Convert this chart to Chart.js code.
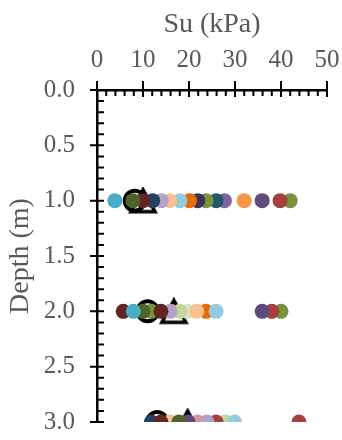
<!DOCTYPE html>
<html>
<head>
<meta charset="utf-8">
<script src="https://cdn.jsdelivr.net/npm/chart.js@4.4.1/dist/chart.umd.min.js"></script>
<style>
  html, body { margin: 0; padding: 0; background: #fff; }
  #wrap { width: 342px; height: 440px; }
</style>
</head>
<body>
<div id="wrap"><canvas id="myChart" width="342" height="440"></canvas></div>
<script>
"use strict";

// depth of each reading (m)
const depths = [1.0, 2.0, 3.0];
const depthTicks = [0.0, 0.5, 1.0, 1.5, 2.0, 2.5, 3.0];
const suTicks = [0, 10, 20, 30, 40, 50];

// Su (kPa) per test series, at 1 m / 2 m / 3 m (null = no reading)
const seriesNames = ['T1', 'T2', 'T3', 'T4', 'T5', 'T6', 'T7', 'T8', 'T9', 'T10', 'T11',
	'T12', 'T13', 'T14', 'T15', 'T16', 'T17', 'T18', 'T19', 'T20', 'T21'];
const suAt1m = [3.9, 7.8, 10.0, 12.1, 14.0, 15.8, 18.0, 20.1, 21.9, 23.7, 25.9,
	27.7, 32.0, 35.9, 39.8, 42.0, null, null, null, null, null];
const suAt2m = [7.9, 10.0, 13.9, null, 15.9, 21.7, 25.9, 23.7, null, 11.8, null,
	null, null, 35.9, 38.0, 40.0, 5.7, 18.0, 19.7, null, null];
const suAt3m = [null, 17.8, 13.9, 11.8, 23.9, 15.8, 29.9, null, null, null, null,
	null, null, 19.8, 25.9, null, null, 27.9, null, 21.9, 43.9];

// the two black open markers
const refSuCircle = [8.2, 11.0, 13.1];
const refSuTriangle = [10.0, 16.7, 19.7];

const palette = ['#4BACC6', '#4F6228', '#632523', '#254061', '#B3A2C7', '#FAC090', '#93CDDD',
	'#E46C0A', '#403152', '#77933C', '#215968', '#8064A2', '#F79646', '#604A7B', '#A5403E',
	'#77933C', '#632523', '#C3D69B', '#D7E4BD', '#D99694', '#A5403E'];

const FONT = "'Liberation Serif', 'Times New Roman', serif";
const GREY = '#595959';

const toPoints = (vals) => vals.map((v, i) => (v === null ? null : {x: v, y: depths[i]})).filter(p => p);

// open triangle, centred on its bounding box like the spreadsheet marker
function triangleMarker() {
	const c = document.createElement('canvas');
	c.width = 30; c.height = 28;
	const g = c.getContext('2d');
	g.strokeStyle = '#000';
	g.lineWidth = 3.5;
	g.lineJoin = 'miter';
	g.beginPath();
	g.moveTo(15, 3);
	g.lineTo(3, 25);
	g.lineTo(27, 25);
	g.closePath();
	g.stroke();
	return c;
}

// major ticks cross the axis, minor ticks point inwards
const tickMarks = {
	id: 'tickMarks',
	afterDraw(chart) {
		const {ctx, chartArea, scales} = chart;
		const xs = scales.x, ys = scales.y;
		ctx.save();
		ctx.strokeStyle = '#000';
		ctx.lineWidth = 2;
		ctx.beginPath();
		for (let i = 0; i <= 25; i++) {
			const px = xs.getPixelForValue(i * 2);
			if (i % 5 === 0) {
				ctx.moveTo(px, chartArea.top - 9);
				ctx.lineTo(px, chartArea.top + 7);
			} else {
				ctx.moveTo(px, chartArea.top);
				ctx.lineTo(px, chartArea.top + 6);
			}
		}
		for (let i = 0; i <= 30; i++) {
			const py = ys.getPixelForValue(i / 10);
			if (i % 5 === 0) {
				ctx.moveTo(chartArea.left - 7, py);
				ctx.lineTo(chartArea.left + 7, py);
			} else {
				ctx.moveTo(chartArea.left, py);
				ctx.lineTo(chartArea.left + 7, py);
			}
		}
		ctx.stroke();
		ctx.restore();
	}
};

function draw() {
	const datasets = seriesNames.map((name, i) => ({
		label: name,
		data: toPoints([suAt1m[i], suAt2m[i], suAt3m[i]]),
		backgroundColor: palette[i],
		borderWidth: 0,
		pointRadius: 7.5,
		order: 1
	}));

	datasets.push({
		label: 'circle',
		data: toPoints(refSuCircle),
		pointStyle: 'circle',
		backgroundColor: 'rgba(0,0,0,0)',
		borderColor: '#000',
		borderWidth: 4,
		pointRadius: 10,
		order: 10
	});
	datasets.push({
		label: 'triangle',
		data: toPoints(refSuTriangle),
		pointStyle: triangleMarker(),
		pointRadius: 14,
		order: 11
	});

	const config = {
		type: 'scatter',
		data: {datasets: datasets},
		options: {
			responsive: false,
			animation: false,
			layout: {padding: {top: 0, right: 14, bottom: 18, left: 0}},
			plugins: {
				legend: {display: false},
				tooltip: {enabled: false}
			},
			scales: {
				x: {
					type: 'linear',
					position: 'top',
					min: 0,
					max: 50,
					afterBuildTicks: s => { s.ticks = suTicks.map(v => ({value: v})); },
					afterFit: s => { s.height = 90; s.paddingLeft = 0; s.paddingRight = 0; },
					grid: {display: false, drawTicks: false},
					border: {display: true, color: '#000', width: 2.5},
					ticks: {color: GREY, font: {family: FONT, size: 25}, padding: 15, maxRotation: 0},
					title: {display: true, text: 'Su (kPa)', color: GREY, font: {family: FONT, size: 28}, padding: {top: 8, bottom: 0}}
				},
				y: {
					type: 'linear',
					reverse: true,
					min: 0,
					max: 3,
					afterBuildTicks: s => { s.ticks = depthTicks.map(v => ({value: v})); },
					afterFit: s => { s.width = 97; s.paddingTop = 0; s.paddingBottom = 0; },
					grid: {display: false, drawTicks: false},
					border: {display: true, color: '#000', width: 2.5},
					ticks: {color: GREY, font: {family: FONT, size: 25}, padding: 22, callback: v => Number(v).toFixed(1)},
					title: {display: true, text: 'Depth (m)', color: GREY, font: {family: FONT, size: 28}, padding: {top: 4, bottom: 0}}
				}
			}
		},
		plugins: [tickMarks]
	};

	new Chart(document.getElementById('myChart'), config);
}

if (document.fonts && document.fonts.load) {
	Promise.all([
		document.fonts.load("25px 'Liberation Serif'"),
		document.fonts.load("28px 'Liberation Serif'")
	]).then(draw, draw);
} else {
	draw();
}
</script>
</body>
</html>
